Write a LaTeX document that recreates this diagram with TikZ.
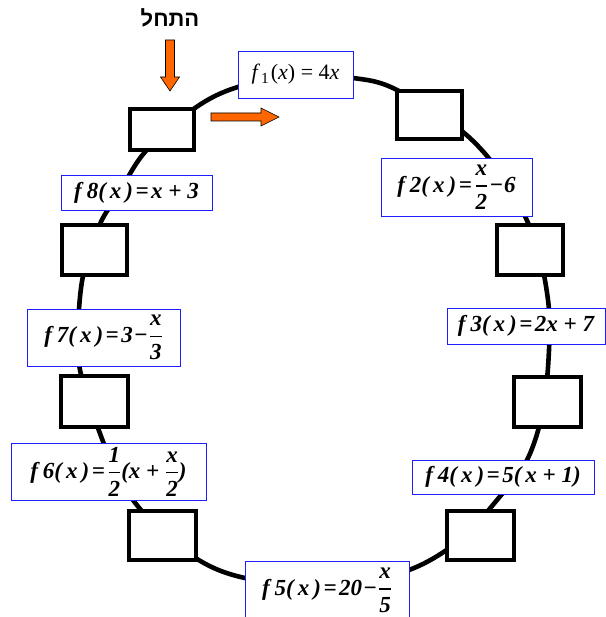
\documentclass[tikz,border=0pt]{standalone}
\usepackage{amsmath}
\usepackage{fontspec}
\setmainfont{Liberation Serif}
\newfontfamily\hebfont[Script=Hebrew]{Liberation Sans}
\TeXXeTstate=1
\definecolor{arroworange}{RGB}{255,102,0}
\definecolor{lblblue}{RGB}{30,30,255}
\newcommand{\fr}[2]{$\genfrac{}{}{1.4pt}{0}{\text{#1}}{\text{#2}}$}
\newcommand{\fnm}[1]{f\kern5pt#1(\kern4pt x\kern4pt)\kern2.5pt=\kern2.5pt}
\begin{document}
\begin{tikzpicture}[x=1pt,y=-1pt,
  valbox/.style={draw=black,line width=4pt,fill=white,inner sep=0pt,minimum width=66pt,minimum height=49pt},
  lbl/.style={draw=lblblue,line width=0.9pt,fill=white,inner sep=0pt,
    font=\fontsize{23}{27}\selectfont\bfseries\itshape},
  ring/.style={line width=4.6pt},
  blockarrow/.style={draw=black,line width=0.6pt,fill=arroworange}]
\useasboundingbox (0,0) rectangle (605,617);
% ring
\draw[ring] plot[smooth cycle, tension=0.55] coordinates {
 (145,152) (195,108) (238,87) (300,76) (353,78) (395,89) (463,132)
 (505,180) (535,240) (548,300) (549,350) (543,410) (527,460) (497,500)
 (460,540) (409,570) (330,588) (245,578) (197,559) (150,520) (120,480)
 (98,428) (80,370) (78,330) (83,276) (100,224) (118,195)};
% value boxes
\node[valbox,minimum width=64pt,minimum height=41pt] (b1) at (161.5,130) {};
\node[valbox,minimum width=65pt,minimum height=48pt] (b2) at (429,115.5) {};
\node[valbox] (b3) at (529.5,250) {};
\node[valbox,minimum width=67pt,minimum height=50pt] (b4) at (547,401.5) {};
\node[valbox,minimum width=67pt] (b5) at (480,535) {};
\node[valbox,minimum width=67pt] (b6) at (162,535) {};
\node[valbox,minimum width=67pt,minimum height=51pt] (b7) at (94,401) {};
\node[valbox,minimum width=65pt] (b8) at (94,250) {};
% function labels
\node[lbl,minimum width=115pt,minimum height=47pt,font=\fontsize{22}{25}\selectfont\mdseries\upshape] (f1) at (295.5,74.5)
  {\textit{f}\kern1pt\textsubscript{1}\kern1.5pt(\textit{x}) = 4\textit{x}};
\node[lbl,minimum width=151pt,minimum height=58pt] (f2) at (456.5,187)
  {\fnm{2}\fr{x}{2}\kern1pt−\kern1pt6};
\node[lbl,minimum width=158pt,minimum height=36pt] (f3) at (526,326)
  {\fnm{3}2x + 7};
\node[lbl,minimum width=182pt,minimum height=34pt] (f4) at (503,477)
  {\fnm{4}5(\kern4pt x + 1)};
\node[lbl,minimum width=164pt,minimum height=58pt] (f5) at (327,590)
  {\fnm{5}20\kern1pt−\kern1pt\fr{x}{5}};
\node[lbl,minimum width=195pt,minimum height=57pt] (f6) at (108.5,471.5)
  {\fnm{6}\fr{1}{2}(x + \fr{x}{2})};
\node[lbl,minimum width=153pt,minimum height=57pt] (f7) at (103.5,337.5)
  {\fnm{7}3\kern1pt−\kern1pt\fr{x}{3}};
\node[lbl,minimum width=151pt,minimum height=35pt] (f8) at (136.5,192.5)
  {\fnm{8}x + 3};
% start label and arrows
\node[font=\hebfont\bfseries\fontsize{22}{26}\selectfont,inner sep=0pt] (start) at (170,18) {\beginR התחל\endR};
\draw[blockarrow] (165.5,40) -- (174.5,40) -- (174.5,77) -- (179.5,77) -- (170,91)
  -- (160.5,77) -- (165.5,77) -- cycle;
\draw[blockarrow] (211,113) -- (261,113) -- (261,108) -- (279,117) -- (261,126)
  -- (261,121) -- (211,121) -- cycle;
\end{tikzpicture}
\end{document}
